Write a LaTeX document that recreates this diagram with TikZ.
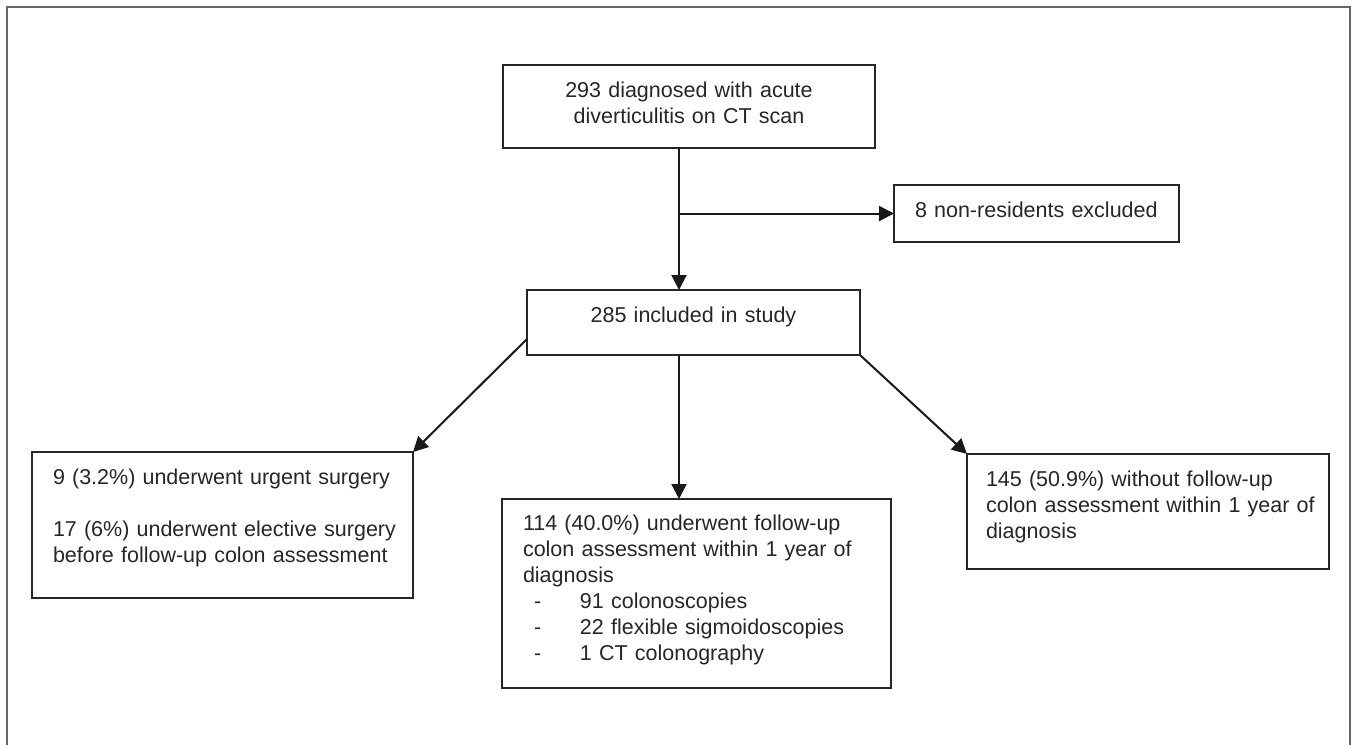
\documentclass[tikz,border=0pt]{standalone}
\usepackage{fontspec}
\setmainfont{Liberation Sans}
\usetikzlibrary{arrows.meta}

\begin{document}
\begin{tikzpicture}[x=1pt, y=-1pt,
	  box/.style={draw=black!85, line width=2pt, anchor=north west, outer sep=0pt, inner ysep=0pt, inner xsep=21pt,
	    align=left, text=black!85, font=\fontsize{21.5}{26}\selectfont},
	  arr/.style={black!90, line width=2pt, -{Triangle[length=15pt, width=15pt]}}]
	  \useasboundingbox (0,0) rectangle (1354,745);
	  % open frame round the chart
	  \draw[color=black!60, line width=2pt] (7,745) -- (7,7) -- (1350,7) -- (1350,745);
	  \coordinate (spine) at (679,0);
	  \node[box, align=center, inner xsep=0pt, text width=372pt, text height=32.7pt, text depth=50.3pt] (diag) at (503,65)
	    {293 diagnosed with acute\\diverticulitis on CT scan};
	  \node[box, text width=243pt, text height=32.7pt, text depth=24.3pt] (excl) at (894,185) {8 non-residents excluded};
	  \node[box, align=center, inner xsep=0pt, text width=333pt, text height=32.7pt, text depth=32.3pt] (incl) at (527,290)
	    {285 included in study};
	  \node[box, text width=339pt, text height=32.7pt, text depth=113.3pt] (surg) at (32,452)
	    {\mbox{9 (3.2\%) underwent urgent surgery}\\[26pt]\mbox{17 (6\%) underwent elective surgery}\\
	     \mbox{before follow-up colon assessment}};
	  \node[box, text width=347pt, text height=31.7pt, text depth=157.3pt] (fup) at (502,499)
	    {\mbox{114 (40.0\%) underwent follow-up}\\\mbox{colon assessment within 1 year of}\\diagnosis\\
	     \makebox[57pt][l]{\hspace*{11pt}-}91 colonoscopies\\
	     \makebox[57pt][l]{\hspace*{11pt}-}22 flexible sigmoidoscopies\\
	     \makebox[57pt][l]{\hspace*{11pt}-}1 CT colonography};
	  \node[box, inner xsep=19pt, text width=324pt, text height=32.7pt, text depth=82.3pt] (nofup) at (967,454)
	    {\mbox{145 (50.9\%) without follow-up}\\\mbox{colon assessment within 1 year of}\\diagnosis};
	  \draw[arr] (diag.south -| spine) -- (incl.north -| spine);
	  \draw[arr] (excl.west -| spine) -- (excl.west);
	  \draw[arr] ([yshift=-16.5pt]incl.west) -- (surg.north east);
	  \draw[arr] (incl.south -| spine) -- (fup.north -| spine);
	  \draw[arr] (incl.south east) -- (nofup.north west);
	\end{tikzpicture}
\end{document}
